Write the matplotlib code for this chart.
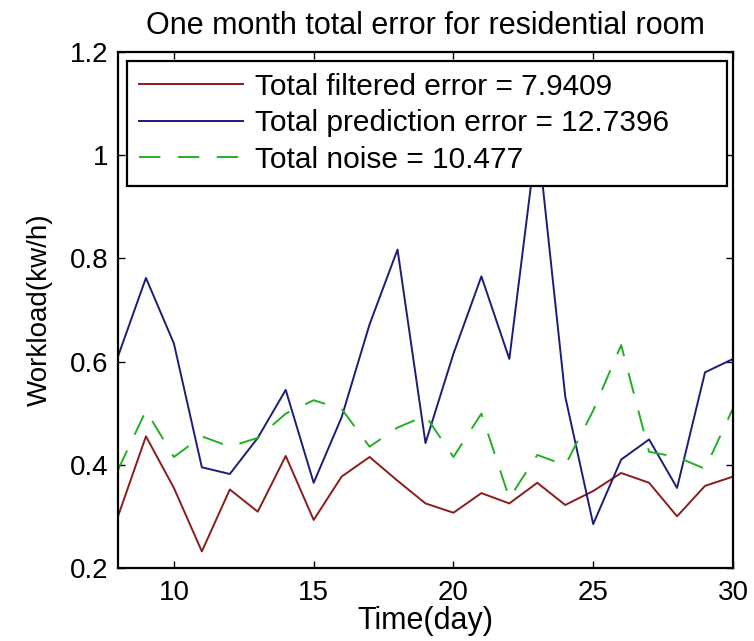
import matplotlib
matplotlib.use('Agg')
import matplotlib.pyplot as plt
from matplotlib.ticker import FormatStrFormatter

plt.rcParams['font.family'] = ['Liberation Sans', 'DejaVu Sans']

dias = list(range(8, 31))

error_filtrado = [0.30, 0.455, 0.355, 0.232, 0.352, 0.309, 0.417, 0.293, 0.377, 0.415, 0.369, 0.325,
                  0.307, 0.345, 0.325, 0.365, 0.322, 0.349, 0.384, 0.365, 0.300, 0.359, 0.377]
error_prediccion = [0.61, 0.762, 0.635, 0.395, 0.382, 0.452, 0.545, 0.365, 0.492, 0.672, 0.817, 0.442,
                    0.615, 0.765, 0.605, 1.04, 0.532, 0.285, 0.41, 0.449, 0.355, 0.579, 0.605]
ruido = [0.39, 0.505, 0.415, 0.455, 0.435, 0.452, 0.499, 0.525, 0.508, 0.435, 0.472, 0.495,
         0.415, 0.499, 0.335, 0.419, 0.399, 0.505, 0.632, 0.425, 0.415, 0.392, 0.509]

etiquetas = ['Total filtered error = 7.9409',
             'Total prediction error = 12.7396',
             'Total noise = 10.477']

fig = plt.figure(figsize=(7.54, 6.41), dpi=100)
ax = fig.add_axes([0.1565, 0.114, 0.8156, 0.805])

ax.plot(dias, error_filtrado, color='#8b1c1c', lw=1.4, label=etiquetas[0])
ax.plot(dias, error_prediccion, color='#1c1c7a', lw=1.4, label=etiquetas[1])
ax.plot(dias, ruido, color='#22b022', lw=1.4, ls=(0, (11, 9)), label=etiquetas[2])

ax.set_xlim(8, 30)
ax.set_ylim(0.2, 1.2)
ax.set_xticks([10, 15, 20, 25, 30])
ax.set_yticks([0.2, 0.4, 0.6, 0.8, 1.0, 1.2])
ax.yaxis.set_major_formatter(FormatStrFormatter('%g'))
ax.tick_params(direction='in', top=True, right=True, labelsize=20, length=5, width=1)
ax.tick_params(axis='x', pad=9)
ax.tick_params(axis='y', pad=7)
for lado in ax.spines.values():
	lado.set_linewidth(1.6)

ax.set_title('One month total error for residential room', fontsize=22, pad=13)
ax.set_xlabel('Time(day)', fontsize=22, labelpad=0)
ax.set_ylabel('Workload(kw/h)', fontsize=20, labelpad=12)

# La leyenda va encima de la linea azul (el pico del dia 23 queda tapado)
# mode='expand' estira el marco casi hasta el borde derecho, como en el original
leyenda = ax.legend(loc='upper left', bbox_to_anchor=(0.0146, 0.0, 0.9756, 0.9826), mode='expand',
                    fontsize=21.5, handlelength=3.5,
                    frameon=True, fancybox=False, edgecolor='black', framealpha=1,
                    borderpad=0.4, labelspacing=0.28, handletextpad=0.4, borderaxespad=0)
leyenda.get_frame().set_linewidth(1.6)
leyenda.set_zorder(5)

fig.savefig('out.png', dpi=100)
